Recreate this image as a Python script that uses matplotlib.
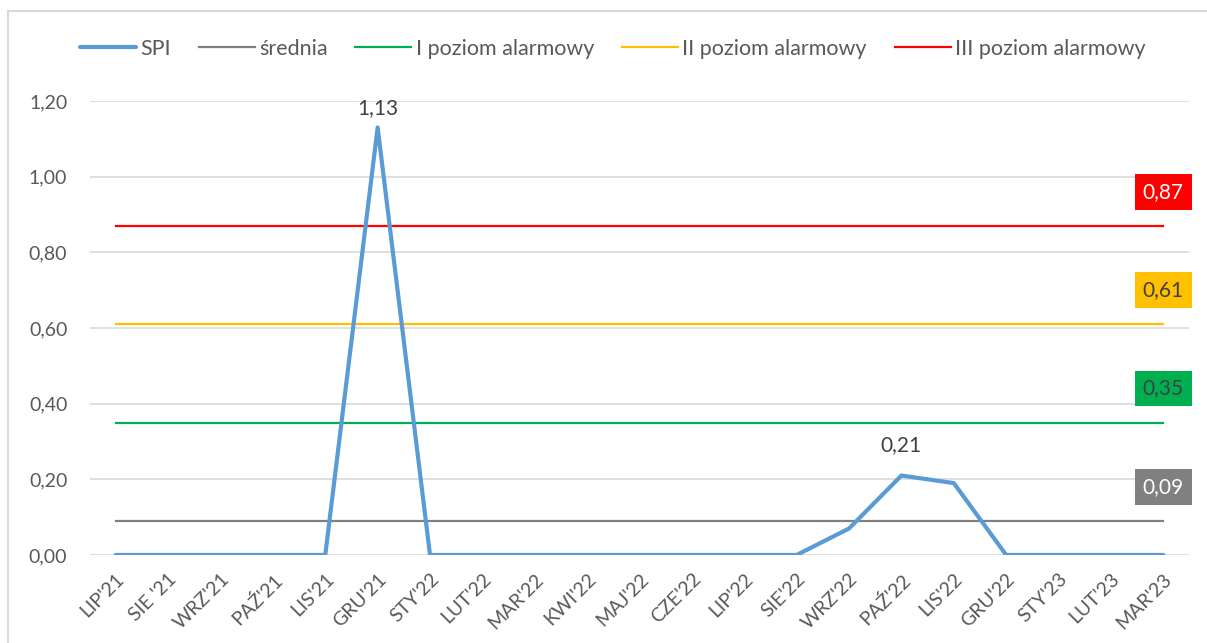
import numpy as np
import matplotlib.pyplot as plt
from matplotlib.ticker import FuncFormatter
from matplotlib.lines import Line2D

# categories (months) and SPI values
months = ["LIP'21", "SIE '21", "WRZ'21", "PAŹ'21", "LIS'21", "GRU'21", "STY'22",
          "LUT'22", "MAR'22", "KWI'22", "MAJ'22", "CZE'22", "LIP'22", "SIE'22",
          "WRZ'22", "PAŹ'22", "LIS'22", "GRU'22", "STY'23", "LUT'23", "MAR'23"]
spi = [0, 0, 0, 0, 0, 1.13, 0, 0, 0, 0, 0, 0, 0, 0, 0.07, 0.21, 0.19, 0, 0, 0, 0]

# reference levels
srednia = 0.09
poziom1 = 0.35
poziom2 = 0.61
poziom3 = 0.87

plt.rcParams['font.family'] = ['Lato', 'DejaVu Sans']
txtcol = '#595959'

fig = plt.figure(figsize=(12.07, 6.43), dpi=100)
ax = fig.add_axes([0.0742, 0.1369, 0.9113, 0.706])

x = np.arange(len(months))
n = len(months)

# threshold lines (from first to last category)
lev_x = [x[0], x[-1]]
ax.plot(lev_x, [srednia] * 2, color='#808080', lw=1.6, label='średnia', zorder=2)
ax.plot(lev_x, [poziom1] * 2, color='#00B050', lw=1.6, label='I poziom alarmowy', zorder=2)
ax.plot(lev_x, [poziom2] * 2, color='#FFC000', lw=1.6, label='II poziom alarmowy', zorder=2)
ax.plot(lev_x, [poziom3] * 2, color='#FF0000', lw=1.6, label='III poziom alarmowy', zorder=2)
ax.plot(x, spi, color='#5B9BD5', lw=3, label='SPI', zorder=3, solid_capstyle='round')

# labels on peaks
ax.annotate('1,13', (x[5], spi[5]), xytext=(0, 7), textcoords='offset points',
            ha='center', va='bottom', fontsize=15, color='#404040', annotation_clip=False)
ax.annotate('0,21', (x[15], spi[15]), xytext=(0, 15), textcoords='offset points',
            ha='center', va='bottom', fontsize=15, color='#404040')

# boxed labels for levels
for val, fc, tc in [(poziom3, '#FF0000', 'white'), (poziom2, '#FFC000', '#404040'),
                    (poziom1, '#00B050', '#404040'), (srednia, '#808080', 'white')]:
    ax.annotate(('%.2f' % val).replace('.', ','), (x[-1], val), xytext=(0, 24.5),
                textcoords='offset points', ha='center', va='center', fontsize=15,
                color=tc, annotation_clip=False,
                bbox=dict(boxstyle='square,pad=0.38', fc=fc, ec='none'))

ax.set_xlim(-0.5, n - 0.5)
ax.set_ylim(0, 1.2)
ax.set_yticks(np.arange(0, 1.21, 0.2))
ax.yaxis.set_major_formatter(FuncFormatter(lambda v, p: ('%.2f' % v).replace('.', ',')))
ax.set_xticks(x)
ax.set_xticklabels(months, rotation=45, ha='right', rotation_mode='anchor')
ax.tick_params(axis='both', length=0, labelsize=14, labelcolor=txtcol)
ax.tick_params(axis='x', pad=11)
ax.tick_params(axis='y', pad=16)
ax.grid(axis='y', color='#D9D9D9', lw=1.2, zorder=0)
ax.set_axisbelow(True)
for s in ax.spines.values():
    s.set_visible(False)

# legend order as in the reference
h, l = ax.get_legend_handles_labels()
order = [4, 0, 1, 2, 3]
fig.legend([h[i] for i in order], [l[i] for i in order], loc='center left',
           bbox_to_anchor=(0.066, 0.924), ncol=5, frameon=False, fontsize=15.5,
           labelcolor=txtcol, handlelength=2.6, columnspacing=1.3, handletextpad=0.2,
           borderaxespad=0, borderpad=0)

# chart border (left and top edges visible)
W, H = 1207, 643
fig.add_artist(Line2D([8 / W, 8 / W], [0, 1 - 11 / H], transform=fig.transFigure,
                      color='#D9D9D9', lw=1.5))
fig.add_artist(Line2D([8 / W, 1], [1 - 11 / H, 1 - 11 / H], transform=fig.transFigure,
                      color='#D9D9D9', lw=1.5))

fig.savefig('out.png', dpi=100)
